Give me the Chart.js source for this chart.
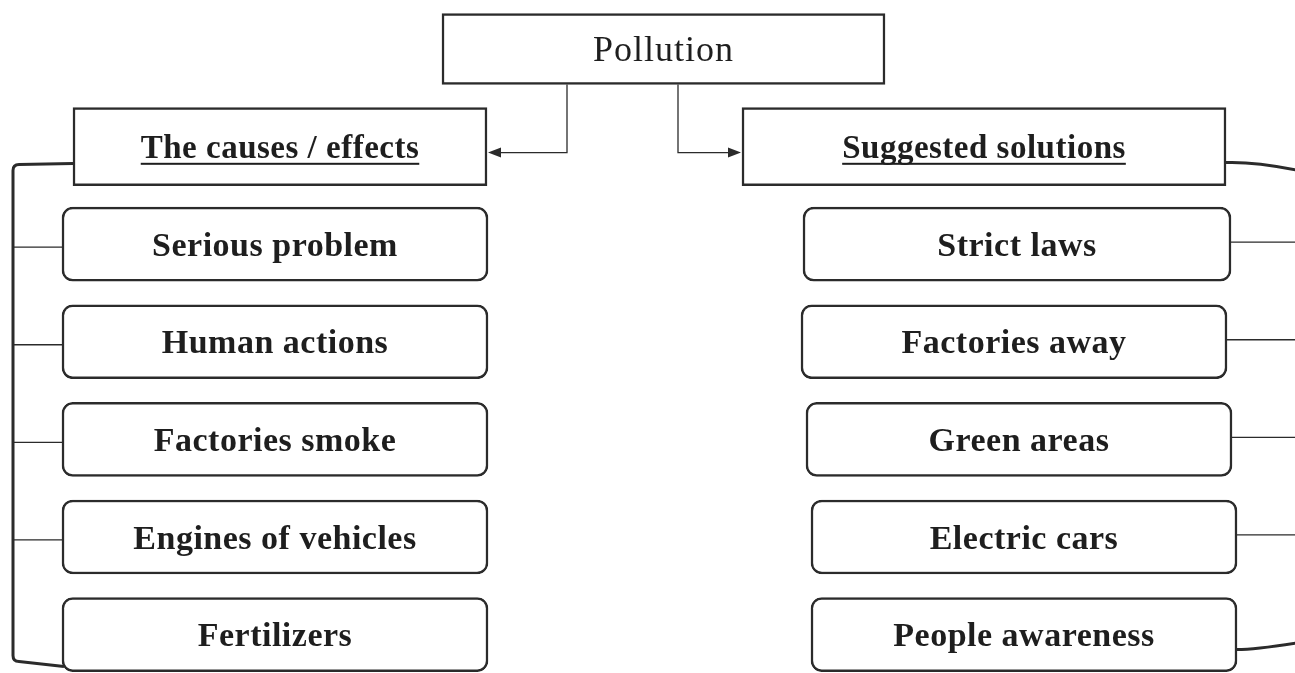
<!DOCTYPE html>
<html>
<head>
<meta charset="utf-8">
<title>Pollution</title>
<script src="https://cdn.jsdelivr.net/npm/chart.js@4.4.1/dist/chart.umd.min.js"></script>
<style>
  html, body { margin: 0; padding: 0; background: #fff; }
  #wrap { width: 1295px; height: 673px; position: relative; }
</style>
</head>
<body>
<div id="wrap"><canvas id="pollutionMap"></canvas></div>
<script>
// diagram content
var heading = ['Pollution'];
var branchTitles = ['The causes / effects', 'Suggested solutions'];
var causes = ['Serious problem', 'Human actions', 'Factories smoke', 'Engines of vehicles', 'Fertilizers'];
var solutions = ['Strict laws', 'Factories away', 'Green areas', 'Electric cars', 'People awareness'];

// layout (x spans in scale units, rows on the y scale)
var headingSpan = [442, 885];
var branchSpans = [[73, 487], [742, 1226]];
var causeSpan = [62, 488];
var solutionSpans = [[803, 1231], [801, 1227], [806, 1232], [811, 1237], [811, 1237]];
var arrowDrops = [567, 678];
var bracketX = 13;

var ink = '#2b2b2b';
var serif = "'Liberation Serif', 'Times New Roman', serif";

function boxes(texts, spanFor, rowFor) {
    return texts.map(function (t, i) {
        return { x: spanFor(i), y: rowFor(i) };
    });
}

var labelPlugin = {
    id: 'boxLabels',
    afterDatasetsDraw: function (chart) {
        var ctx = chart.ctx;
        ctx.save();
        ctx.fillStyle = '#1e1e1e';
        ctx.textAlign = 'center';
        ctx.textBaseline = 'alphabetic';
        chart.data.datasets.forEach(function (ds, di) {
            var meta = chart.getDatasetMeta(di);
            ctx.font = ds.textFont;
            ctx.letterSpacing = ds.textSpacing || '0px';
            meta.data.forEach(function (bar, i) {
                var cx = (bar.x + bar.base) / 2;
                var base = bar.y + ds.textSize * 0.34;
                ctx.fillText(ds.texts[i], cx, base);
                if (ds.underline) {
                    var w = ctx.measureText(ds.texts[i]).width;
                    ctx.fillRect(cx - w / 2, base + 5, w, 2);
                }
            });
        });
        ctx.restore();
    }
};

var linkPlugin = {
    id: 'links',
    beforeDatasetsDraw: function (chart) {
        var ctx = chart.ctx;
        var xs = chart.scales.x;
        var top = chart.getDatasetMeta(0).data[0];
        var br = chart.getDatasetMeta(1).data;
        var left = chart.getDatasetMeta(2).data;
        var right = chart.getDatasetMeta(3).data;
        var W = chart.width;
        ctx.save();
        ctx.strokeStyle = ink;
        ctx.fillStyle = ink;

        // arrows from the heading to the two branches
        var topBottom = top.y + top.height / 2;
        var ay = br[0].y + 6;
        ctx.lineWidth = 1.3;
        ctx.beginPath();
        ctx.moveTo(xs.getPixelForValue(arrowDrops[0]), topBottom);
        ctx.lineTo(xs.getPixelForValue(arrowDrops[0]), ay);
        ctx.lineTo(br[0].x + 12, ay);
        ctx.moveTo(xs.getPixelForValue(arrowDrops[1]), topBottom);
        ctx.lineTo(xs.getPixelForValue(arrowDrops[1]), ay);
        ctx.lineTo(br[1].base - 12, ay);
        ctx.stroke();
        ctx.beginPath();
        ctx.moveTo(br[0].x + 1, ay);
        ctx.lineTo(br[0].x + 14, ay - 5);
        ctx.lineTo(br[0].x + 14, ay + 5);
        ctx.closePath();
        ctx.moveTo(br[1].base - 1, ay);
        ctx.lineTo(br[1].base - 14, ay - 5);
        ctx.lineTo(br[1].base - 14, ay + 5);
        ctx.closePath();
        ctx.fill();

        // left bracket
        var bx = xs.getPixelForValue(bracketX);
        var last = left[left.length - 1];
        var yTop = br[0].y + 17;
        var yBot = last.y + 27;
        ctx.lineWidth = 3;
        ctx.beginPath();
        ctx.moveTo(br[0].base, yTop);
        ctx.lineTo(bx + 6, yTop + 1);
        ctx.quadraticCurveTo(bx, yTop + 1, bx, yTop + 7);
        ctx.lineTo(bx, yBot - 6);
        ctx.quadraticCurveTo(bx, yBot, bx + 6, yBot);
        ctx.lineTo(last.base + 2, yBot + 5);
        ctx.stroke();
        ctx.lineWidth = 1.3;
        ctx.beginPath();
        for (var i = 0; i < left.length - 1; i++) {
            ctx.moveTo(bx, left[i].y + 3);
            ctx.lineTo(left[i].base, left[i].y + 3);
        }
        ctx.stroke();

        // right bracket (runs off the right edge)
        var rl = right[right.length - 1];
        ctx.lineWidth = 3;
        ctx.beginPath();
        ctx.moveTo(br[1].x, br[1].y + 16);
        ctx.quadraticCurveTo(W - 40, br[1].y + 15, W + 4, br[1].y + 24);
        ctx.moveTo(rl.x, rl.y + 15);
        ctx.quadraticCurveTo(W - 40, rl.y + 15, W + 4, rl.y + 8);
        ctx.stroke();
        ctx.lineWidth = 1.3;
        ctx.beginPath();
        for (var j = 0; j < right.length - 1; j++) {
            ctx.moveTo(right[j].x, right[j].y - 2);
            ctx.lineTo(W, right[j].y - 2);
        }
        ctx.stroke();
        ctx.restore();
    }
};

document.addEventListener('DOMContentLoaded', function () {
    var ctx = document.getElementById('pollutionMap').getContext('2d');
    var boxStyle = {
        backgroundColor: '#ffffff',
        borderColor: ink,
        borderWidth: 2.5,
        borderSkipped: false,
        grouped: false
    };
    var pollutionMap = new Chart(ctx, {
        type: 'bar',
        data: {
            datasets: [Object.assign({
                label: 'heading',
                texts: heading,
                textFont: '36px ' + serif,
                textSize: 36,
                textSpacing: '1px',
                data: boxes(heading, function () { return headingSpan; }, function () { return 0; }),
                barThickness: 71,
                borderRadius: 0
            }, boxStyle), Object.assign({
                label: 'branches',
                texts: branchTitles,
                textFont: 'bold 33px ' + serif,
                textSize: 33,
                textSpacing: '0.5px',
                underline: true,
                data: boxes(branchTitles, function (i) { return branchSpans[i]; }, function () { return 1; }),
                barThickness: 78,
                borderRadius: 0
            }, boxStyle), Object.assign({
                label: 'causes',
                texts: causes,
                textFont: 'bold 34px ' + serif,
                textSize: 34,
                textSpacing: '0.5px',
                data: boxes(causes, function () { return causeSpan; }, function (i) { return i + 2; }),
                barThickness: 74,
                borderRadius: 11
            }, boxStyle), Object.assign({
                label: 'solutions',
                texts: solutions,
                textFont: 'bold 34px ' + serif,
                textSize: 34,
                textSpacing: '0.5px',
                data: boxes(solutions, function (i) { return solutionSpans[i]; }, function (i) { return i + 2; }),
                barThickness: 74,
                borderRadius: 11
            }, boxStyle)]
        },
        options: {
            indexAxis: 'y',
            responsive: true,
            maintainAspectRatio: false,
            animation: false,
            layout: { padding: 0 },
            scales: {
                x: { type: 'linear', min: 0, max: 1295, offset: false, display: false },
                y: { type: 'linear', min: -0.502, max: 6.394, reverse: true, offset: false, display: false }
            },
            plugins: {
                colors: { enabled: false },
                legend: { display: false },
                tooltip: { enabled: false }
            }
        },
        plugins: [linkPlugin, labelPlugin]
    });
});
</script>
</body>
</html>
